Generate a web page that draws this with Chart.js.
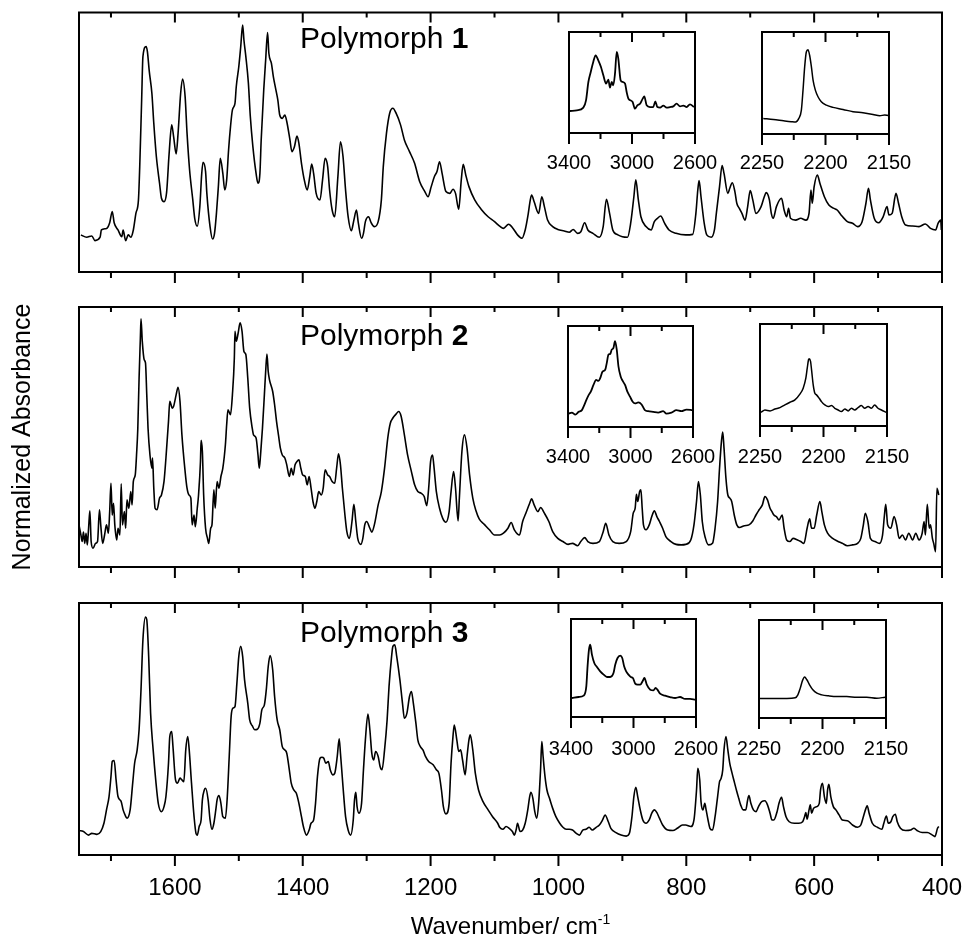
<!DOCTYPE html>
<html>
<head>
<meta charset="utf-8">
<title>Polymorph spectra</title>
<script src="https://cdn.jsdelivr.net/npm/chart.js@4.4.0/dist/chart.umd.min.js"></script>
<style>
  body { margin: 0; background: #fff; }
  #wrap { position: relative; width: 964px; height: 945px; }
  #wrap canvas { position: absolute; left: 0; top: 0; }
</style>
</head>
<body>
<div id="wrap"></div>
<script>
// ---- tick values ----
const mainMajor = [1600, 1400, 1200, 1000, 800, 600, 400]
const mainMinor = [1700, 1500, 1300, 1100, 900, 700, 500]
const chMajor = [3400, 3000, 2600]
const chMinor = [3200, 2800]
const cnMajor = [2250, 2200, 2150]
const cnMinor = [2225, 2175]

// ---- polymorph 1, 1750-400 cm-1 ----
const p1Wn = [
  1747,1738,1730,1725,1717,1715,1707,1702,1698,1695,
  1689,1683,1681,1677,1673,1669,1665,1661,1657,1655,
  1652,1650,1645,1643,1640,1636,1633,1629,1624,1621,
  1617,1613,1609,1605,1602,1598,1595,1591,1588,1584,
  1581,1577,1572,1569,1565,1561,1558,1556,1552,1550,
  1545,1541,1538,1535,1532,1529,1525,1522,1519,1516,
  1513,1510,1506,1504,1500,1497,1494,1492,1489,1485,
  1482,1478,1473,1470,1467,1465,1461,1458,1455,1453,
  1449,1446,1442,1439,1436,1432,1428,1425,1420,1417,
  1413,1409,1406,1402,1397,1393,1389,1386,1383,1379,
  1373,1369,1365,1361,1358,1354,1350,1345,1341,1337,
  1333,1329,1324,1320,1316,1313,1308,1305,1302,1297,
  1293,1288,1282,1277,1274,1269,1264,1259,1254,1247,
  1241,1233,1225,1217,1209,1204,1199,1194,1190,1186,
  1182,1176,1170,1165,1161,1156,1152,1149,1145,1140,
  1131,1121,1110,1100,1092,1086,1078,1071,1064,1057,
  1052,1048,1044,1042,1038,1031,1026,1022,1017,1009,
  1001,991,983,977,970,965,959,954,946,936,
  930,925,920,915,907,900,892,887,882,879,
  875,871,863,855,850,845,840,834,827,816,
  801,790,785,782,780,777,772,768,761,756,
  753,748,744,741,735,732,728,724,721,717,
  713,708,704,700,696,691,683,678,675,670,
  667,664,659,651,647,643,640,637,629,621,
  613,608,605,603,600,595,591,584,577,569,
  564,558,548,540,532,525,519,515,512,506,
  499,492,486,483,478,472,468,463,457,446,
  436,426,418,410,406,402,401
]
const p1Abs = [
  14.3,13.4,13.9,12.1,13.4,16.2,16.8,19.0,23.3,19.0,
  16.2,13.6,16.2,12.1,14.3,13.4,16.2,22.6,27.8,40.6,
  66.3,83.0,86.9,84.9,77.2,68.9,57.3,44.5,34.2,28.4,
  27.1,30.6,45.7,56.7,52.2,45.5,53.5,68.9,74.4,67.6,
  53.5,39.3,27.8,20.7,17.7,25.2,38.0,42.3,38.7,30.3,
  17.5,12.7,14.9,22.6,32.9,43.8,38.0,31.6,35.5,47.0,
  56.0,62.5,65.0,71.4,79.2,86.9,95.2,89.4,83.0,72.7,
  59.9,48.3,38.0,34.2,38.0,50.9,70.2,81.7,92.3,84.3,
  80.4,75.3,70.2,66.3,60.5,59.2,60.5,58.0,50.9,46.4,
  48.3,52.4,49.6,41.9,34.8,31.6,36.8,41.6,38.0,30.3,
  27.8,35.5,43.8,40.6,31.6,23.9,21.3,36.8,50.2,44.5,
  31.6,21.3,15.9,20.0,23.9,18.8,13.0,14.9,19.4,21.3,
  19.0,17.5,19.4,27.8,40.6,53.5,61.2,63.1,61.2,56.7,
  50.9,46.4,41.9,34.8,31.0,29.0,32.9,36.8,38.7,42.5,
  38.0,31.0,30.3,31.9,30.3,24.2,35.5,41.5,37.4,32.9,
  27.8,24.2,21.3,19.4,17.7,16.8,18.4,16.8,14.3,13.0,
  16.2,21.3,27.8,29.7,27.1,22.6,29.0,25.2,20.0,17.5,
  16.4,15.8,15.3,16.4,14.9,15.5,19.0,16.2,14.9,13.4,
  17.5,28.0,22.6,16.2,14.3,13.6,13.4,18.8,29.0,35.5,
  27.8,21.3,17.5,16.2,19.4,20.7,21.6,18.8,16.2,14.9,
  14.3,14.5,22.6,31.6,35.2,29.0,18.8,14.3,13.4,16.2,
  22.6,32.9,41.0,38.0,30.3,32.3,34.4,31.0,26.5,24.5,
  22.6,20.0,25.2,31.4,27.8,22.6,25.2,29.0,30.6,27.8,
  22.6,20.7,25.2,28.4,23.9,21.3,24.5,20.7,20.0,20.7,
  20.0,22.6,31.6,26.5,32.9,37.4,34.2,29.0,25.8,24.5,
  23.9,22.0,19.4,18.8,17.5,19.4,26.5,32.3,27.8,20.7,
  19.0,21.3,25.2,22.0,22.6,30.3,26.5,21.3,18.1,17.7,
  17.5,18.5,16.8,16.2,18.8,20.0,16.2
]

// ---- polymorph 2 ----
const p2Wn = [
  1750,1747,1745,1743,1741,1739,1737,1735,1733,1731,
  1728,1724,1721,1718,1716,1713,1710,1707,1704,1702,
  1700,1698,1696,1694,1691,1689,1686,1684,1682,1679,
  1677,1675,1672,1669,1667,1665,1662,1660,1658,1656,
  1654,1653,1651,1648,1646,1644,1642,1639,1636,1635,
  1633,1631,1628,1624,1621,1617,1614,1610,1608,1604,
  1602,1598,1595,1592,1589,1584,1581,1578,1575,1573,
  1570,1568,1565,1563,1560,1559,1557,1555,1552,1549,
  1547,1544,1542,1539,1537,1534,1531,1528,1525,1521,
  1519,1517,1513,1510,1507,1506,1504,1501,1498,1495,
  1492,1489,1486,1483,1479,1477,1473,1470,1468,1466,
  1463,1460,1458,1456,1454,1452,1447,1444,1441,1438,
  1435,1432,1428,1425,1421,1418,1415,1412,1409,1406,
  1403,1400,1396,1393,1390,1387,1384,1381,1378,1375,
  1371,1368,1365,1361,1358,1354,1350,1347,1344,1341,
  1338,1334,1331,1327,1323,1320,1317,1314,1309,1306,
  1303,1300,1295,1292,1288,1282,1277,1272,1267,1263,
  1259,1254,1250,1246,1241,1236,1230,1225,1220,1215,
  1210,1206,1203,1200,1197,1195,1191,1186,1181,1176,
  1171,1168,1164,1161,1157,1155,1151,1147,1143,1139,
  1134,1129,1124,1116,1108,1100,1092,1086,1079,1074,
  1069,1061,1056,1051,1045,1042,1038,1032,1028,1022,
  1015,1009,1001,993,985,978,970,965,959,954,
  946,936,930,926,921,915,905,894,887,883,
  880,878,876,873,871,869,867,863,858,854,
  850,846,842,837,832,824,816,808,801,793,
  788,784,781,778,775,770,765,759,755,751,
  748,745,743,741,738,735,732,729,725,721,
  717,709,702,696,691,686,681,677,673,669,
  666,663,659,655,650,647,643,638,633,626,
  621,616,611,607,604,600,596,591,588,584,
  579,571,564,556,548,540,532,527,523,520,
  516,512,505,498,493,490,488,485,480,475,
  471,467,462,457,452,446,441,436,431,428,
  426,423,420,418,415,413,410,408,405
]
const p2Abs = [
  16.2,12.3,9.8,13.4,9.1,13.0,8.5,14.9,21.6,9.8,
  7.2,9.1,9.8,22.0,16.2,9.1,12.3,16.2,13.0,21.3,
  32.2,20.0,24.5,16.2,10.4,14.9,12.3,32.0,16.2,21.3,
  14.9,25.8,22.6,29.0,23.9,32.9,35.4,43.1,53.4,72.7,
  88.1,95.5,86.8,79.7,78.5,66.3,53.4,43.1,38.0,41.9,
  30.3,22.6,22.0,26.5,27.7,32.9,41.9,56.0,63.7,61.1,
  61.8,66.3,69.1,63.7,50.8,36.7,30.3,27.7,26.5,16.2,
  20.0,15.5,22.6,27.7,40.6,48.7,44.4,27.7,14.9,11.0,
  9.1,14.9,16.2,29.7,22.6,32.9,30.3,34.8,38.0,47.0,
  54.7,60.5,58.6,66.3,80.4,90.7,86.8,90.0,93.9,90.7,
  82.9,81.7,72.7,61.1,53.4,50.8,49.6,43.1,38.0,43.1,
  53.4,66.3,75.2,81.9,75.2,72.0,67.5,62.4,56.0,50.8,
  45.7,43.1,41.9,39.3,34.8,38.0,35.4,39.3,40.6,41.2,
  38.0,35.4,34.8,31.6,34.8,30.3,25.2,22.6,25.2,29.0,
  27.7,30.3,37.4,35.4,34.8,32.9,32.2,38.0,43.5,39.3,
  30.3,20.0,13.6,11.0,17.5,24.1,17.5,11.0,8.7,11.0,
  16.2,17.5,14.9,13.4,16.2,23.9,29.0,38.0,49.6,55.3,
  57.3,58.8,59.8,57.9,50.8,43.1,36.7,31.6,29.0,28.4,
  27.1,23.6,30.3,40.6,43.1,39.3,29.0,22.6,18.7,17.2,
  21.3,29.0,36.7,30.3,17.7,26.5,44.4,50.8,45.7,35.4,
  26.5,21.6,18.5,16.4,14.3,12.3,12.3,13.0,14.9,17.1,
  14.3,12.3,17.5,20.7,24.5,26.2,23.9,21.3,22.9,20.7,
  17.5,13.6,11.0,9.8,8.7,9.1,8.2,9.8,11.3,9.8,
  9.1,9.8,13.6,16.8,12.3,9.8,9.1,9.8,13.6,20.7,
  22.6,28.0,25.2,29.0,29.7,22.6,16.2,14.3,16.2,19.4,
  21.6,19.4,17.5,14.9,11.7,9.8,8.7,8.5,8.7,10.4,
  16.2,25.2,32.9,27.7,17.5,11.0,8.5,9.1,14.9,25.2,
  38.0,48.3,51.9,45.7,34.2,27.7,26.5,25.2,20.0,16.2,
  15.2,15.9,16.2,17.7,20.0,22.0,23.9,27.1,25.8,22.6,
  21.3,20.0,19.4,18.1,20.0,14.9,10.4,9.8,11.0,10.4,
  9.8,9.1,14.9,18.5,14.9,14.9,20.0,25.2,21.3,16.2,
  13.0,11.0,10.0,9.1,8.2,8.5,9.1,11.0,16.2,20.7,
  17.5,11.0,9.8,9.1,12.3,20.0,24.1,16.2,14.9,19.4,
  16.2,11.0,12.3,10.4,13.0,10.4,13.0,10.4,13.0,17.5,
  12.3,24.1,14.9,16.2,11.0,9.1,5.9,30.3,27.7
]

// ---- polymorph 3 ----
const p3Wn = [
  1750,1743,1735,1730,1722,1716,1711,1707,1703,1700,
  1698,1695,1692,1689,1684,1681,1678,1675,1670,1666,
  1663,1659,1656,1653,1650,1646,1644,1641,1638,1634,
  1630,1626,1621,1617,1614,1610,1608,1605,1603,1599,
  1596,1592,1589,1586,1583,1580,1578,1574,1570,1567,
  1565,1562,1559,1557,1554,1552,1548,1545,1542,1539,
  1536,1534,1531,1528,1525,1521,1518,1515,1512,1509,
  1506,1503,1500,1497,1494,1491,1486,1483,1479,1475,
  1471,1467,1464,1460,1457,1454,1451,1447,1444,1440,
  1436,1432,1428,1425,1421,1418,1414,1410,1406,1402,
  1399,1394,1390,1387,1383,1380,1377,1373,1370,1367,
  1364,1360,1357,1353,1350,1346,1343,1341,1337,1333,
  1329,1325,1321,1319,1317,1315,1312,1308,1305,1302,
  1298,1295,1292,1289,1286,1282,1279,1276,1272,1268,
  1265,1261,1259,1256,1253,1248,1244,1241,1237,1233,
  1230,1227,1223,1220,1216,1212,1208,1203,1196,1191,
  1187,1183,1180,1176,1171,1168,1165,1163,1159,1156,
  1153,1150,1146,1143,1140,1138,1134,1130,1125,1118,
  1110,1103,1095,1092,1087,1082,1077,1072,1069,1066,
  1064,1060,1056,1052,1048,1045,1043,1040,1037,1034,
  1031,1028,1026,1024,1021,1018,1014,1009,1004,998,
  993,988,983,978,972,967,962,957,952,947,
  941,936,931,927,922,918,910,902,894,889,
  885,882,879,876,872,868,863,858,854,850,
  846,842,837,829,821,814,806,801,793,788,
  784,782,779,777,774,771,769,766,763,759,
  755,751,748,746,743,741,738,735,732,729,
  725,721,718,715,711,707,704,702,699,695,
  691,687,682,677,673,669,666,663,658,655,
  651,648,644,639,631,624,618,615,613,611,
  608,606,604,601,596,592,590,587,584,581,
  579,577,574,570,566,561,556,548,540,532,
  527,523,519,517,514,509,501,494,491,487,
  484,480,477,473,470,465,457,449,444,439,
  431,423,415,411,407,405
]
const p3Abs = [
  9.7,9.3,7.9,8.6,8.2,9.3,12.6,17.9,23.2,31.1,
  37.1,37.5,29.8,23.2,21.2,17.9,15.9,14.6,17.9,28.5,
  36.4,41.7,49.7,65.6,85.4,94.4,93.4,78.8,56.3,41.7,
  29.8,20.5,17.2,19.2,23.2,36.4,47.0,49.0,43.0,29.8,
  28.5,30.5,29.8,29.1,41.7,47.0,43.0,28.5,15.2,8.6,
  7.9,11.3,13.9,21.9,25.8,26.5,21.9,13.9,10.2,12.6,
  17.9,21.9,23.6,20.5,15.2,14.6,23.2,39.1,55.0,58.3,
  58.9,68.2,78.8,82.8,78.8,69.5,60.3,53.6,51.3,49.7,
  49.9,52.3,57.6,59.6,65.6,74.8,79.1,73.5,62.9,53.6,
  49.7,43.0,41.7,40.4,33.8,28.5,25.8,24.5,20.5,15.2,
  11.3,7.9,9.9,12.6,13.9,20.5,31.1,38.4,38.8,38.4,
  36.4,37.1,33.8,31.8,32.4,39.1,46.1,40.4,27.1,15.2,
  9.9,7.9,13.9,21.9,24.9,19.2,16.6,20.5,33.8,45.7,
  55.9,49.7,40.4,37.7,41.1,39.1,35.1,33.8,41.7,53.6,
  66.9,78.8,82.8,83.4,78.8,69.5,60.3,54.3,56.3,62.9,
  64.9,60.3,52.3,45.7,43.0,41.7,39.1,37.1,35.8,33.8,
  32.4,25.8,19.2,16.3,20.5,36.4,47.0,51.6,45.7,41.1,
  41.7,37.7,31.8,39.1,45.7,47.7,41.7,32.4,25.8,21.2,
  17.9,15.2,12.6,11.0,10.2,11.3,10.6,9.3,7.9,10.2,
  12.6,9.3,9.9,12.6,17.9,23.2,24.9,22.5,17.2,14.6,
  20.5,33.8,45.0,39.1,31.1,25.8,22.5,18.5,15.2,12.6,
  11.0,10.2,10.2,9.9,8.6,7.9,9.9,10.2,11.0,9.9,
  11.0,11.9,13.9,15.9,13.2,10.6,8.9,7.9,7.5,8.6,
  15.2,23.2,26.9,23.2,17.9,13.9,12.6,13.9,16.6,17.9,
  16.8,14.6,11.9,9.9,9.7,10.6,11.9,11.9,11.3,13.9,
  25.8,34.4,29.8,21.2,17.9,20.5,17.9,13.9,10.6,9.9,
  15.2,23.2,29.1,30.1,33.8,41.7,47.0,41.7,36.4,33.1,
  29.1,25.2,22.5,19.9,17.9,17.9,21.9,23.6,20.5,17.9,
  17.2,19.2,21.2,21.5,19.9,16.6,13.9,13.9,17.2,20.5,
  22.9,19.2,15.2,13.2,12.6,12.6,13.2,15.2,16.8,14.2,
  17.9,19.9,16.6,18.5,19.2,20.5,25.8,28.5,23.2,20.5,
  25.8,28.1,23.2,19.2,17.9,15.9,13.9,13.6,11.9,11.0,
  11.9,15.2,18.5,19.5,16.6,12.6,11.0,10.2,12.6,15.5,
  12.6,13.2,15.2,16.2,13.2,10.6,9.7,9.9,10.6,9.7,
  8.9,8.9,7.9,7.3,10.6,11.3
]

// ---- insets: C-H region (3400-2600) and C#N region (2250-2150) ----
const p1chWn = [3394,3351,3309,3292,3277,3262,3246,3231,3214,3197,3182,3165,3150,3140,3129,3119,3108,3097,3087,3072,3059,3044,3034,3023,3009,2996,2981,2966,2949,2932,2922,2907,2886,2865,2852,2839,2822,2801,2780,2759,2738,2717,2695,2674,2653,2632,2607]
const p1chAbs = [21.8,22.4,25.1,32.3,50.5,60.4,70.3,76.9,71.9,65.3,57.1,48.8,52.8,44.9,50.5,47.2,58.7,80.2,73.6,52.1,50.5,48.8,40.6,34.0,32.3,30.7,24.1,27.4,29.0,34.0,36.3,27.4,25.7,25.7,31.4,25.7,25.1,27.1,25.1,25.7,26.4,29.0,26.4,27.1,25.7,28.4,25.7]
const p1cnWn = [2249,2241,2233,2227,2223.5,2221,2219,2217.7,2216.4,2215.1,2213.8,2212.5,2211.1,2209.8,2208,2205.9,2203.3,2199.3,2194.1,2186.2,2178.3,2170.5,2162.6,2157.3,2153.4,2150.8]
const p1cnAbs = [15.3,14.3,13.0,12.1,11.7,15.3,23.5,43.0,65.8,80.4,82.7,77.2,65.8,52.8,43.0,36.5,31.6,28.3,26.1,24.1,21.8,20.8,19.2,17.9,18.6,18.2]

const p2chWn = [3394,3375,3353,3332,3311,3296,3283,3268,3254,3237,3220,3205,3194,3179,3162,3152,3141,3130,3120,3109,3099,3088,3077,3063,3050,3035,3020,3003,2986,2971,2950,2929,2908,2887,2855,2823,2791,2770,2738,2706,2674,2642,2604]
const p2chAbs = [13.3,14.3,12.3,15.0,16.7,21.6,26.6,31.6,35.0,41.6,46.6,45.6,48.3,54.9,56.6,63.3,71.6,72.3,76.6,78.3,84.9,76.6,59.9,50.0,45.6,41.6,35.0,30.0,25.0,23.3,24.3,22.3,16.7,15.7,15.0,14.3,15.7,13.3,14.3,16.7,15.7,17.3,16.7]
const p2cnWn = [2249.2,2246.1,2242.1,2238.2,2234.3,2230.4,2226.4,2222.5,2218.6,2216,2213.9,2212.8,2211.8,2211.3,2210.2,2209.4,2208.1,2206.8,2205.5,2203.4,2201.6,2199,2196.3,2193.7,2191.1,2188.5,2185.9,2183.2,2180.6,2178,2175.4,2172.8,2170.2,2167.5,2164.9,2162.3,2159.7,2157.1,2154.4,2150.5]
const p2cnAbs = [13.4,15.7,14.8,16.7,18.0,20.7,23.3,25.6,31.2,37.1,46.9,56.7,64.9,65.9,63.3,55.1,40.3,32.1,30.5,27.2,23.9,20.7,19.0,20.0,17.4,15.7,14.1,16.7,14.8,17.4,15.7,18.0,20.0,17.4,19.0,17.4,20.7,17.4,15.7,13.4]

const p3chWn = [3394,3351,3319,3302,3294,3285,3277,3266,3251,3234,3213,3191,3170,3149,3128,3117,3102,3085,3072,3060,3047,3032,3017,3004,2989,2974,2957,2942,2930,2915,2893,2872,2859,2847,2830,2798,2766,2734,2702,2670,2638,2606]
const p3chAbs = [19.4,20.4,21.8,31.3,51.7,68.7,73.8,63.6,55.1,51.0,46.6,43.2,40.8,40.8,44.9,53.4,60.2,62.6,60.2,51.7,46.6,43.2,40.8,39.8,34.0,33.0,33.0,36.4,39.8,33.0,27.9,27.2,29.6,27.9,23.8,21.8,20.4,19.4,20.4,18.4,18.4,17.7]
const p3cnWn = [2249.2,2238.5,2228,2221.5,2219.4,2217.5,2215.7,2214.1,2212.3,2210.2,2207.6,2204.4,2200.5,2195.3,2188.7,2180.9,2173,2165.2,2157.3,2150.8]
const p3cnAbs = [19.9,19.9,19.9,20.6,23.6,30.5,38.4,41.8,39.0,33.9,28.8,25.3,23.6,22.6,21.9,21.9,21.2,21.2,20.2,21.2]

const W = 964, H = 945
const FONT = "'Liberation Sans', Arial, Helvetica, sans-serif"
Chart.defaults.font.family = FONT
const wrap = document.getElementById('wrap')

// box, ticks and tick labels, drawn from the x scale
const frameTicks = {
  id: 'frameTicks',
  afterDatasetsDraw(chart, args, o) {
    const {ctx, chartArea: a} = chart
    const sx = chart.scales.x
    ctx.save()
    ctx.strokeStyle = '#000'
    ctx.lineWidth = 2
    ctx.strokeRect(a.left, a.top, a.right - a.left, a.bottom - a.top)
    const tick = (v, len) => {
      const px = sx.getPixelForValue(v)
      ctx.beginPath()
      ctx.moveTo(px, a.bottom); ctx.lineTo(px, a.bottom + len)
      ctx.moveTo(px, a.top); ctx.lineTo(px, a.top + len - 1)
      ctx.stroke()
    }
    o.major.forEach(v => tick(v, 11))
    o.minor.forEach(v => tick(v, 6))
    if (o.showLabels) {
      ctx.fillStyle = '#000'
      ctx.font = o.fontSize + 'px ' + FONT
      ctx.textAlign = 'center'
      ctx.textBaseline = 'middle'
      o.major.forEach(v => ctx.fillText(String(v), sx.getPixelForValue(v), a.bottom + o.labelGap))
    }
    ctx.restore()
  }
}

// "Polymorph n" and axis titles
const panelText = {
  id: 'panelText',
  afterDraw(chart, args, o) {
    const {ctx, chartArea: a} = chart
    ctx.save()
    ctx.fillStyle = '#000'
    ctx.textBaseline = 'alphabetic'
    if (o.name) {
      ctx.textAlign = 'left'
      ctx.font = '30px ' + FONT
      const x0 = a.left + 221, y0 = a.top + o.nameDy
      ctx.fillText(o.name, x0, y0)
      const w = ctx.measureText(o.name).width
      ctx.font = 'bold 30px ' + FONT
      ctx.fillText(o.num, x0 + w, y0)
    }
    if (o.yTitle) {
      ctx.save()
      ctx.translate(a.left - 56, (a.top + a.bottom) / 2)
      ctx.rotate(-Math.PI / 2)
      ctx.textAlign = 'center'
      ctx.textBaseline = 'middle'
      ctx.font = '25px ' + FONT
      ctx.fillText(o.yTitle, 0, 0)
      ctx.restore()
    }
    if (o.xTitle) {
      ctx.font = '24px ' + FONT
      const w1 = ctx.measureText(o.xTitle).width
      ctx.font = '14px ' + FONT
      const w2 = ctx.measureText(o.xSup).width
      const cx = (a.left + a.right) / 2 - (w1 + w2) / 2
      const by = a.bottom + 79
      ctx.textAlign = 'left'
      ctx.font = '24px ' + FONT
      ctx.fillText(o.xTitle, cx, by)
      ctx.font = '14px ' + FONT
      ctx.fillText(o.xSup, cx + w1, by - 10)
    }
    ctx.restore()
  }
}

function makeChart(box, wn, ab, xmin, xmax, ticks, text, lw) {
  const cv = document.createElement('canvas')
  cv.width = W; cv.height = H
  wrap.appendChild(cv)
  return new Chart(cv, {
    type: 'line',
    data: {
      datasets: [{
        data: wn.map((x, i) => ({x: x, y: ab[i]})),
        borderColor: '#000',
        borderWidth: lw,
        pointRadius: 0,
        cubicInterpolationMode: 'monotone',
        borderJoinStyle: 'round',
        fill: false
      }]
    },
    options: {
      responsive: false,
      animation: false,
      events: [],
      layout: {padding: {left: box[0], top: box[1], right: W - box[2], bottom: H - box[3]}},
      scales: {
        x: {type: 'linear', min: xmin, max: xmax, reverse: true, display: false},
        y: {type: 'linear', min: 0, max: 100, display: false}
      },
      plugins: {
        legend: {display: false},
        tooltip: {enabled: false},
        frameTicks: ticks,
        panelText: text || {}
      }
    },
    plugins: [frameTicks, panelText]
  })
}

const mainTicks = (lab) => ({major: mainMajor, minor: mainMinor, showLabels: lab, fontSize: 24, labelGap: 33})

makeChart([79, 12.5, 942, 272], p1Wn, p1Abs, 400, 1750, mainTicks(false),
  {name: 'Polymorph ', num: '1', nameDy: 35}, 1.6)
makeChart([79, 307, 942, 567], p2Wn, p2Abs, 400, 1750, mainTicks(false),
  {name: 'Polymorph ', num: '2', nameDy: 38, yTitle: 'Normalized Absorbance'}, 1.6)
makeChart([79, 603, 942, 855], p3Wn, p3Abs, 400, 1750, mainTicks(true),
  {name: 'Polymorph ', num: '3', nameDy: 39, xTitle: 'Wavenumber/ cm', xSup: '-1'}, 1.6)

const chTicks = (gap) => ({major: chMajor, minor: chMinor, showLabels: true, fontSize: 20, labelGap: gap})
const cnTicks = (gap) => ({major: cnMajor, minor: cnMinor, showLabels: true, fontSize: 20, labelGap: gap})

makeChart([569, 32, 695, 133], p1chWn, p1chAbs, 2600, 3400, chTicks(30), null, 1.8)
makeChart([762, 32, 889, 134], p1cnWn, p1cnAbs, 2150, 2250, cnTicks(29), null, 1.5)
makeChart([568, 326, 693, 427], p2chWn, p2chAbs, 2600, 3400, chTicks(30), null, 1.8)
makeChart([760, 324, 887, 426], p2cnWn, p2cnAbs, 2150, 2250, cnTicks(31), null, 1.5)
makeChart([571, 619, 696, 717], p3chWn, p3chAbs, 2600, 3400, chTicks(32), null, 1.8)
makeChart([759, 620, 886, 718], p3cnWn, p3cnAbs, 2150, 2250, cnTicks(31), null, 1.5)
</script>
</body>
</html>
